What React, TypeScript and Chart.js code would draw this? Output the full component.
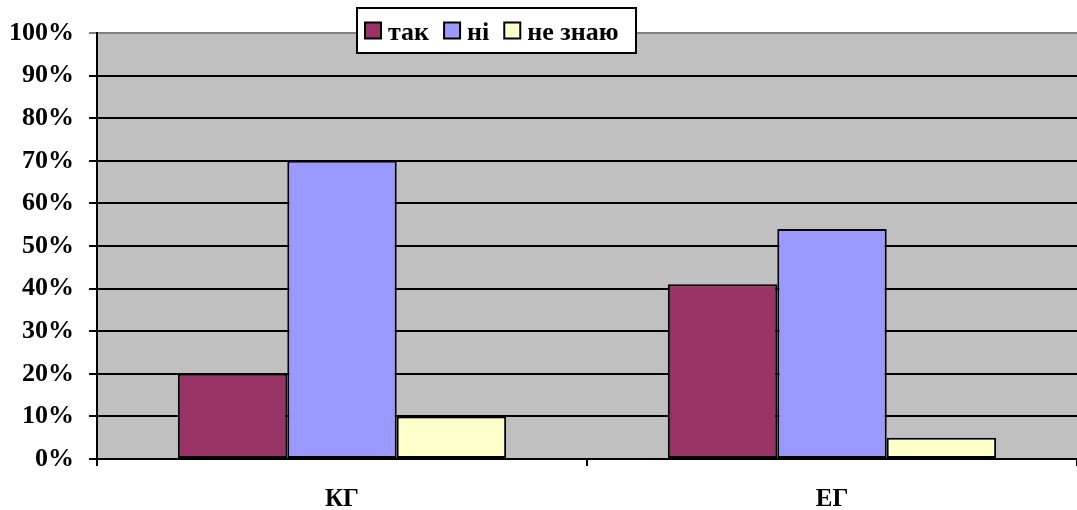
import React, { useEffect, useRef } from "react";
import { Chart, registerables } from "chart.js";

Chart.register(...registerables);

const categories = ["КГ", "ЕГ"];
const seriesNames = ["так", "ні", "не знаю"];
const takValues = [20, 41];
const niValues = [70, 54];
const neZnayuValues = [10, 5];
const seriesColors = ["#993366", "#9999FF", "#FFFFCC"];
const yTicks = [0, 10, 20, 30, 40, 50, 60, 70, 80, 90, 100];

const FONT = "'Liberation Serif', 'Times New Roman', serif";

const bgPlugin = {
  id: "plotBg",
  beforeDraw(chart: any) {
    const { ctx, chartArea } = chart;
    ctx.save();
    ctx.fillStyle = "#C0C0C0";
    ctx.fillRect(chartArea.left, chartArea.top, chartArea.right - chartArea.left, chartArea.bottom - chartArea.top);
    ctx.restore();
  },
};

const legendPlugin = {
  id: "boxLegend",
  afterDraw(chart: any) {
    const { ctx } = chart;
    const x0 = 357, y0 = 8, w = 279, h = 45;
    ctx.save();
    ctx.fillStyle = "#FFFFFF";
    ctx.fillRect(x0, y0, w, h);
    ctx.strokeStyle = "#000";
    ctx.lineWidth = 2;
    ctx.strokeRect(x0, y0, w, h);
    ctx.font = `bold 26px ${FONT}`;
    ctx.textBaseline = "middle";
    ctx.textAlign = "left";
    let x = x0 + 8;
    const cy = y0 + h / 2;
    chart.data.datasets.forEach((ds: any) => {
      ctx.fillStyle = ds.backgroundColor;
      ctx.fillRect(x, cy - 8, 16, 16);
      ctx.strokeStyle = "#000";
      ctx.lineWidth = 2;
      ctx.strokeRect(x, cy - 8, 16, 16);
      ctx.fillStyle = "#000";
      ctx.fillText(ds.label, x + 23, cy + 3);
      x += 23 + ctx.measureText(ds.label).width + 15;
    });
    ctx.restore();
  },
};

export default function App() {
  const ref = useRef<HTMLCanvasElement | null>(null);
  useEffect(() => {
    document.body.style.margin = "0";
    if (!ref.current) return;
    const chart = new Chart(ref.current, {
      type: "bar",
      data: {
        labels: categories,
        datasets: [takValues, niValues, neZnayuValues].map((vals, i) => ({
          label: seriesNames[i],
          data: vals,
          backgroundColor: seriesColors[i],
          borderColor: "#000",
          borderWidth: 2,
          borderSkipped: false,
          categoryPercentage: 0.67,
          barPercentage: 1.0,
        })),
      },
      options: {
        responsive: false,
        animation: false,
        devicePixelRatio: 1,
        layout: { padding: { top: 33, right: 0, left: 0, bottom: 0 } },
        plugins: { legend: { display: false }, tooltip: { enabled: false } },
        scales: {
          x: {
            afterFit(scale: any) { scale.height = 51; },
            grid: {
              offset: true,
              drawOnChartArea: false,
              drawTicks: true,
              tickLength: 7,
              color: "#000",
              lineWidth: 2,
            },
            border: { display: true, color: "#000", width: 2 },
            ticks: {
              color: "#000",
              font: { family: FONT, size: 25, weight: "bold" },
              padding: 19,
            },
          },
          y: {
            min: 0,
            max: 100,
            afterFit(scale: any) { scale.width = 97; },
            afterBuildTicks(scale: any) { scale.ticks = yTicks.map((v) => ({ value: v })); },
            grid: {
              drawTicks: true,
              tickLength: 8,
              color: (c: any) => (c.tick && c.tick.value === 100 ? "#808080" : "#000"),
              lineWidth: 2,
            },
            border: { display: true, color: "#000", width: 2 },
            ticks: {
              color: "#000",
              font: { family: FONT, size: 26, weight: "bold" },
              padding: 15,
              callback: (v: any) => `${v}%`,
            },
          },
        },
      },
      plugins: [bgPlugin, legendPlugin],
    });
    return () => chart.destroy();
  }, []);
  return (
    <div style={{ width: 1077, height: 510, position: "relative", background: "#fff" }}>
      <canvas ref={ref} width={1077} height={510} />
    </div>
  );
}
